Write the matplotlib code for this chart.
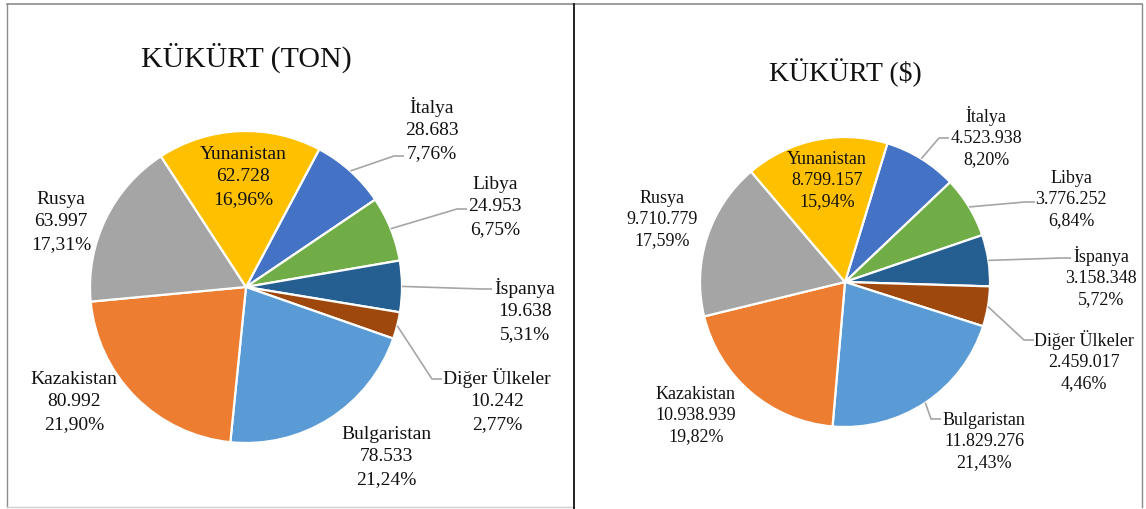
import numpy as np
import matplotlib
matplotlib.use("Agg")
import matplotlib.pyplot as plt

plt.rcParams['font.family'] = ['Liberation Serif', 'DejaVu Serif']

# veriler (saat yönünde, Italya'dan başlayarak)
countries = ['İtalya', 'Libya', 'İspanya', 'Diğer Ülkeler',
             'Bulgaristan', 'Kazakistan', 'Rusya', 'Yunanistan']
ton_values = [28683, 24953, 19638, 10242, 78533, 80992, 63997, 62728]
usd_values = [4523938, 3776252, 3158348, 2459017, 11829276, 10938939, 9710779, 8799157]
colors = ['#4472C4', '#70AD47', '#255E91', '#9E480E',
          '#5B9BD5', '#ED7D31', '#A5A5A5', '#FFC000']

W, H = 1146, 510

# etiket konumlari (piksel, resmin sol ustunden; orta satirin merkezi)
ton_label_pos = [(432, 129), (495, 205), (525, 310), (497, 400),
                 (386, 455), (74, 400), (61, 220), (243, 175)]
ton_anchors = [(404, 157), (467, 210), (492, 290), (442, 380),
               None, None, None, None]
usd_label_pos = [(986, 137), (1071, 198), (1101, 277), (1084, 361),
                 (984, 440), (696, 414), (662, 218), (827, 179)]
usd_anchors = [(949, 139), (1035, 203), (1071, 259), (1034, 341),
               (941, 420), None, None, None]


def fmt_num(v):
    return f"{v:,}".replace(',', '.')


def fmt_pct(p):
    return f"{p:.2f}".replace('.', ',') + '%'


fig = plt.figure(figsize=(W / 100, H / 100), dpi=100)

# cerceveler
bg = fig.add_axes([0, 0, 1, 1])
bg.set_xlim(0, W)
bg.set_ylim(H, 0)
bg.axis('off')
bg.plot([7, 1142], [5, 5], color='#8c8c8c', lw=1.2)
bg.plot([7, 7], [5, 508], color='#8c8c8c', lw=1.0)
bg.plot([7, 574], [508, 508], color='#d0d0d0', lw=1.0)
bg.plot([574, 574], [5, 510], color='#222222', lw=1.4)
bg.plot([1142, 1142], [5, 508], color='#8c8c8c', lw=1.0)


def pie_panel(x0, x1, cx, cy, r, values, start, title, title_xy, title_size,
              label_pos, anchors, fs, step):
    ax = fig.add_axes([x0 / W, 0, (x1 - x0) / W, 1])
    wedges, _ = ax.pie(values, colors=colors, startangle=90 - start,
                       counterclock=False,
                       wedgeprops=dict(edgecolor='white', linewidth=1.6))
    ax.set_xlim((x0 - cx) / r, (x1 - cx) / r)
    ax.set_ylim((cy - H) / r, cy / r)
    ax.set_aspect('auto')
    ax.axis('off')

    def px(x, y):
        return (x - cx) / r, (cy - y) / r

    total = sum(values)
    for i, w in enumerate(wedges):
        lines = [countries[i], fmt_num(values[i]),
                 fmt_pct(values[i] / total * 100)]
        lx, ly = label_pos[i]
        for k, s in enumerate(lines):
            # her satir sabit aralikla, baseline'a gore
            ax.text(*px(lx, ly + (k - 1) * step + fs * 0.45), s,
                    ha='center', va='baseline', fontsize=fs, color='#111111')
        if anchors[i] is not None:
            mid = np.deg2rad((w.theta1 + w.theta2) / 2)
            sx, sy = np.cos(mid), np.sin(mid)
            ax_, ay_ = px(*anchors[i])
            ex, ey = px(anchors[i][0] - 10, anchors[i][1])
            ax.plot([sx, ex, ax_], [sy, ey, ay_], color='#a6a6a6', lw=1.2,
                    solid_capstyle='butt')
    ax.text(*px(*title_xy), title, ha='center', va='center',
            fontsize=title_size, color='#111111')


pie_panel(0, 574, 246, 288, 156, ton_values, 28, 'KÜKÜRT (TON)', (246, 58), 21.5,
          ton_label_pos, ton_anchors, 14, 22.5)
pie_panel(574, W, 845, 283, 145, usd_values, 17, 'KÜKÜRT ($)', (845, 73), 20,
          usd_label_pos, usd_anchors, 13, 21)

fig.savefig('out.png', dpi=100)
